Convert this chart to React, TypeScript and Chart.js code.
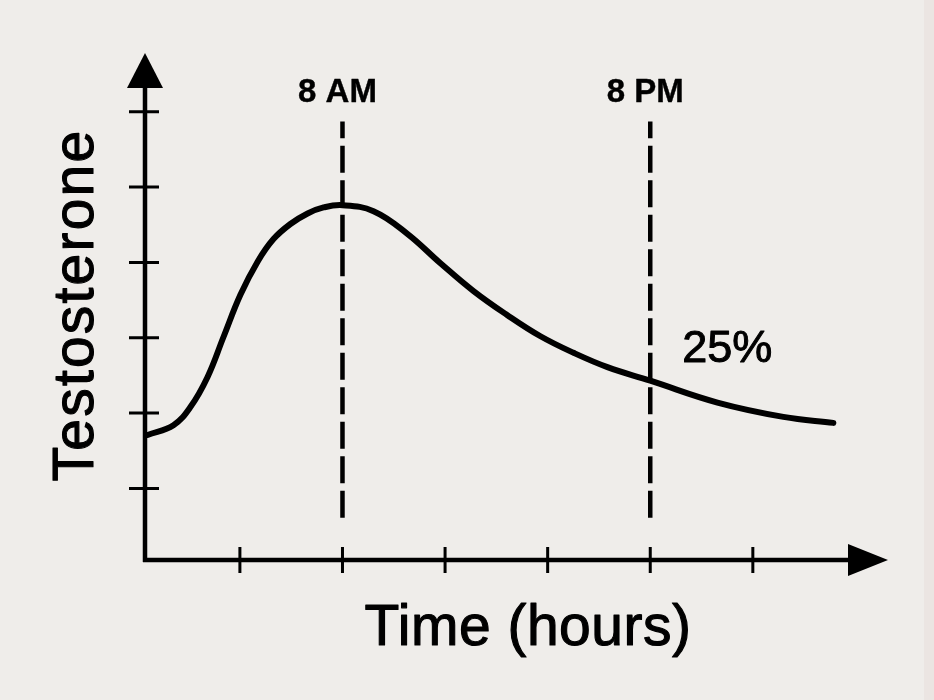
import React, { useEffect, useRef } from "react";
import { Chart, registerables } from "chart.js";

Chart.register(...registerables);

// Curve: time of day (hours) vs relative testosterone level (tick units)
const hours = [0.4, 1.41, 2.07, 2.74, 3.36, 4.02, 4.69, 5.31, 5.97, 6.64, 7.26, 8, 9.21, 10.53, 11.82, 13.11, 14.43, 15.72, 17.01, 18.33, 20.0, 22.62, 25.19, 27.14];
const levels = [1.71, 1.84, 2.08, 2.48, 3.01, 3.57, 4.01, 4.31, 4.51, 4.65, 4.73, 4.76, 4.68, 4.38, 3.99, 3.62, 3.3, 3.02, 2.8, 2.61, 2.43, 2.14, 1.95, 1.87];

// Marker lines
const markerHours = [8, 20];
const markerLabels = ["8 AM", "8 PM"];
const markerRange = [0.61, 5.87];

// Axis ticks
const xTicks = [4, 8, 12, 16, 20, 24];
const yTicks = [1, 2, 3, 4, 5, 6];
const xRange = [0.3, 29.27];
const yRange = [0.05, 6.78];

// Annotation
const noteText = "25%";
const noteAt = { x: 21.25, y: 2.7 };
const xTitle = "Time (hours)";
const yTitle = "Testosterone";

const FONT = '"Liberation Sans", Arial, Helvetica, sans-serif';

function heavyText(ctx: any, text: string, x: number, y: number, w: number) {
  ctx.fillText(text, x, y);
  ctx.lineWidth = w;
  ctx.lineJoin = "round";
  ctx.strokeText(text, x, y);
}

const axesPlugin = {
  id: "handAxes",
  afterDraw(chart: any) {
    const ctx = chart.ctx;
    const xs = chart.scales.x;
    const ys = chart.scales.y;
    const x0 = xs.left;
    const y0 = ys.bottom;
    const xEnd = xs.right;
    const yEnd = ys.top;
    ctx.save();
    ctx.strokeStyle = "#000";
    ctx.fillStyle = "#000";
    ctx.lineCap = "butt";
    // axes lines
    ctx.lineWidth = 4.5;
    ctx.beginPath();
    ctx.moveTo(x0, y0 + 2);
    ctx.lineTo(x0, yEnd + 34);
    ctx.moveTo(x0 - 2, y0);
    ctx.lineTo(xEnd - 38, y0);
    ctx.stroke();
    // arrowheads
    ctx.beginPath();
    ctx.moveTo(x0, yEnd);
    ctx.lineTo(x0 - 18, yEnd + 35);
    ctx.lineTo(x0 + 18, yEnd + 35);
    ctx.closePath();
    ctx.fill();
    ctx.beginPath();
    ctx.moveTo(xEnd, y0);
    ctx.lineTo(xEnd - 40, y0 - 16);
    ctx.lineTo(xEnd - 40, y0 + 16);
    ctx.closePath();
    ctx.fill();
    // ticks
    ctx.lineWidth = 3;
    ctx.beginPath();
    for (const t of xTicks) {
      const px = xs.getPixelForValue(t);
      ctx.moveTo(px, y0 - 13);
      ctx.lineTo(px, y0 + 13);
    }
    for (const t of yTicks) {
      const py = ys.getPixelForValue(t);
      ctx.moveTo(x0 - 16, py);
      ctx.lineTo(x0 + 14, py);
    }
    ctx.stroke();

    // marker labels
    ctx.font = `bold 33px ${FONT}`;
    ctx.textAlign = "center";
    ctx.textBaseline = "alphabetic";
    markerHours.forEach((h, i) => {
      const px = xs.getPixelForValue(h);
      heavyText(ctx, markerLabels[i], px - 5, 102, 0.4);
    });

    // note
    ctx.font = `45px ${FONT}`;
    ctx.textAlign = "left";
    heavyText(ctx, noteText, xs.getPixelForValue(noteAt.x), 362, 1.0);

    // x title
    ctx.font = `57px ${FONT}`;
    (ctx as any).letterSpacing = "0.5px";
    ctx.textAlign = "center";
    heavyText(ctx, xTitle, 528, 645, 1.1);

    // y title
    ctx.save();
    ctx.translate(93, 305);
    ctx.rotate(-Math.PI / 2);
    ctx.font = `57px ${FONT}`;
    (ctx as any).letterSpacing = "2.2px";
    ctx.textAlign = "center";
    heavyText(ctx, yTitle, 0, 0, 1.1);
    ctx.restore();

    ctx.restore();
  },
};

export default function App() {
  const ref = useRef<HTMLCanvasElement | null>(null);

  useEffect(() => {
    if (!ref.current) return;
    const curve = hours.map((h, i) => ({ x: h, y: levels[i] }));
    const markerSets = markerHours.map((h) => ({
      data: [
        { x: h, y: markerRange[0] },
        { x: h, y: markerRange[1] },
      ],
      borderColor: "#000",
      borderWidth: 4.5,
      borderDash: [27, 7.5],
      borderCapStyle: "butt" as const,
      pointRadius: 0,
      tension: 0,
      fill: false,
    }));
    const chart = new Chart(ref.current, {
      type: "line",
      data: {
        datasets: [
          {
            data: curve,
            borderColor: "#000",
            borderWidth: 6,
            borderCapStyle: "round",
            borderJoinStyle: "round",
            pointRadius: 0,
            tension: 0.4,
            fill: false,
          },
          ...markerSets,
        ],
      },
      options: {
        responsive: false,
        animation: false,
        devicePixelRatio: 1,
        layout: { padding: { left: 145, right: 46, top: 53, bottom: 140 } },
        scales: {
          x: { type: "linear", min: xRange[0], max: xRange[1], display: false },
          y: { type: "linear", min: yRange[0], max: yRange[1], display: false },
        },
        plugins: { legend: { display: false }, tooltip: { enabled: false } },
        events: [],
      },
      plugins: [axesPlugin],
    } as any);
    return () => chart.destroy();
  }, []);

  return (
    <div
      style={{
        position: "fixed",
        left: 0,
        top: 0,
        width: 934,
        height: 700,
        background: "#efedea",
      }}
    >
      <div
        style={{
          position: "absolute",
          right: 0,
          top: 0,
          width: 10,
          height: 700,
          background: "#ebe5e2",
        }}
      />
      <canvas ref={ref} width={934} height={700} style={{ position: "absolute", left: 0, top: 0 }} />
    </div>
  );
}
